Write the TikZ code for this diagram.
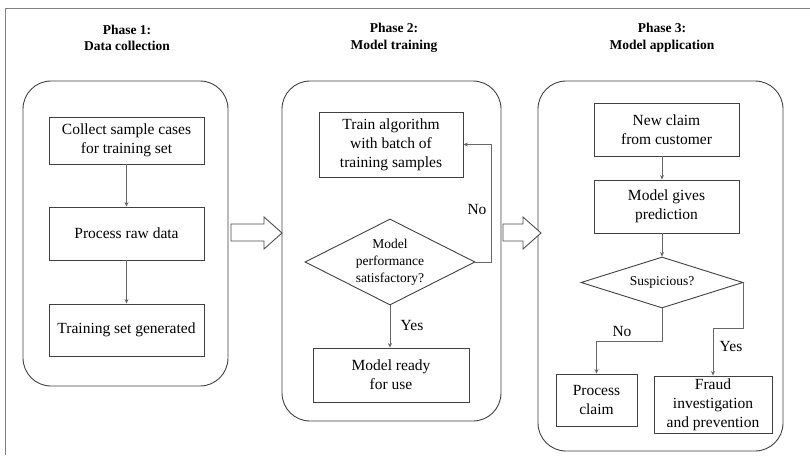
\documentclass[tikz,border=0pt]{standalone}
\usepackage{fontspec}
\setmainfont{Liberation Serif}[Extension=.ttf, UprightFont=LiberationSerif-Regular, BoldFont=LiberationSerif-Bold, ItalicFont=LiberationSerif-Italic, BoldItalicFont=LiberationSerif-BoldItalic]
\usetikzlibrary{shapes.geometric,arrows.meta}
\begin{document}
\begin{tikzpicture}[x=1pt,y=-1pt,
  frame/.style={draw=black!50, line width=1pt},
  panel/.style={draw=black!75, line width=0.9pt, rounded corners=28pt, rectangle, inner sep=0pt},
  proc/.style={draw=black!75, line width=0.9pt, rectangle, align=center, inner sep=0pt, font=\fontsize{15.5}{19}\selectfont},
  dec/.style={draw=black!75, line width=0.9pt, diamond, aspect=2, align=center, inner sep=0pt, font=\fontsize{13.5}{17}\selectfont},
  ttl/.style={align=center, inner sep=0pt, font=\bfseries\fontsize{13.5}{16.5}\selectfont},
  lbl/.style={inner sep=0pt, font=\fontsize{15.5}{17}\selectfont},
  arr/.style={draw=black!60, line width=0.7pt, -{Stealth[length=4.5pt,width=4pt]}},
  hollow/.style={draw=black!70, line width=0.9pt, fill=white}]
\useasboundingbox (0,0) rectangle (810,455);
% outer frame
\draw[frame] (5,455) -- (5,8) -- (810,8);
% titles
\node[ttl] (t1) at (127,38) {Phase 1:\\Data collection};
\node[ttl] (t2) at (394,38) {Phase 2:\\Model training};
\node[ttl] (t3) at (662,38) {Phase 3:\\Model application};
% panels
\node[panel, minimum width=205pt, minimum height=305pt] (p1) at (125.5,233.5) {};
\node[panel, minimum width=219pt, minimum height=340pt] (p2) at (391.5,251) {};
\node[panel, minimum width=245pt, minimum height=370pt] (p3) at (660.5,266) {};
% hollow arrows
\draw[hollow] (231,224) -- (264,224) -- (264,217) -- (282,233) -- (264,249) -- (264,241) -- (231,241) -- cycle;
\draw[hollow] (503,224) -- (523,224) -- (523,217) -- (541,233) -- (523,249) -- (523,241) -- (503,241) -- cycle;
% phase 1
\node[proc, minimum width=155pt, minimum height=47pt] (b1) at (126.5,140.5) {Collect sample cases\\for training set};
\node[proc, minimum width=155pt, minimum height=53pt] (b2) at (126.5,233.5) {Process raw data};
\node[proc, minimum width=155pt, minimum height=52pt] (b3) at (126.5,330) {Training set generated};
\draw[arr] (b1) -- (b2);
\draw[arr] (b2) -- (b3);
% phase 2
\node[proc, minimum width=144pt, minimum height=65pt] (tr) at (391,144.5) {Train algorithm\\with batch of\\training samples};
\node[dec, minimum width=170pt, minimum height=86pt] (d1) at (390,262) {Model\\performance\\satisfactory?};
\node[proc, minimum width=156pt, minimum height=54pt] (mr) at (391,375) {Model ready\\for use};
\draw[arr] (d1.east) -- ++(16,0) |- (tr.east);
\draw[arr] (d1.south) -- (d1.south |- mr.north);
\node[lbl] (no1) at (477,209) {No};
\node[lbl] (yes1) at (412,325) {Yes};
% phase 3
\node[proc, minimum width=145pt, minimum height=53pt] (nc) at (666.5,129.5) {New claim\\from customer};
\node[proc, minimum width=145pt, minimum height=53pt] (mp) at (666.5,206.5) {Model gives\\prediction};
\node[dec, minimum width=162pt, minimum height=51pt] (d2) at (662,282.5) {Suspicious?};
\node[proc, minimum width=81pt, minimum height=52pt] (pc) at (596.5,400) {Process\\claim};
\node[proc, minimum width=118pt, minimum height=57pt] (fr) at (713,404.5) {Fraud\\investigation\\and prevention};
\draw[arr] (nc.south -| d2.north) -- (d2.north |- mp.north);
\draw[arr] (mp.south -| d2.north) -- (d2.north);
\draw[arr] (d2.south) -- ++(0,33) -| (pc.north);
\draw[arr] (d2.east) -- ++(0,45.5) -| (fr.north);
\node[lbl] (no2) at (622,331) {No};
\node[lbl] (yes2) at (731,346) {Yes};
\end{tikzpicture}
\end{document}
